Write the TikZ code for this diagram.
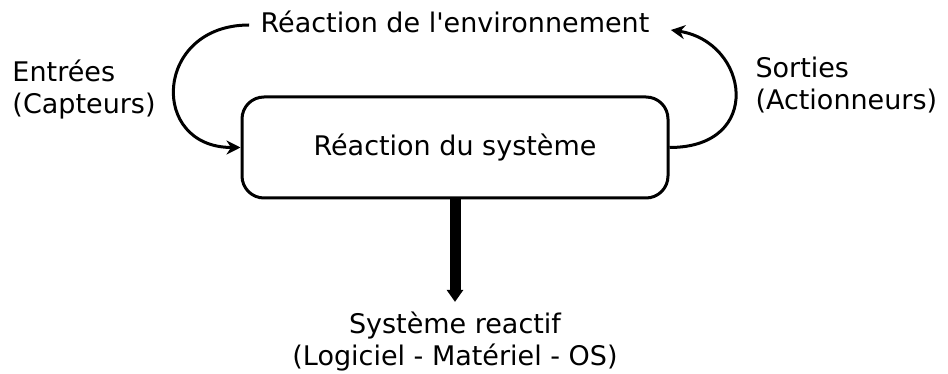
\documentclass[tikz,border=0pt]{standalone}
\usepackage{fontspec}
\setmainfont{DejaVu Sans}
\usetikzlibrary{arrows.meta}
\begin{document}
\begin{tikzpicture}[x=1pt,y=-1pt,line width=3pt,
  font=\fontsize{27}{32}\selectfont,
  lbl/.style={align=left,anchor=west,inner sep=0pt},
  loop/.style={-{Stealth[length=14pt,width=14pt]}}]
  \useasboundingbox (0,0) rectangle (948,374);
  \node[draw,rounded corners=22pt,minimum width=426pt,minimum height=101pt,inner sep=0pt] (sys) at (455,147.5) {Réaction du système};
  \node[inner sep=0pt] (env) at (455,22) {Réaction de l\textquotesingle environnement};
  \node[align=center,inner sep=0pt] (reac) at (455,342) {Système reactif\\(Logiciel - Matériel - OS)};
  \node[lbl] (inp) at (11,90) {Entrées\\(Capteurs)};
  \node[lbl] (outp) at (754,85) {Sorties\\(Actionneurs)};
  % boucle entre systeme et environnement
  \draw[loop] ([xshift=-10pt,yshift=-3pt]env.west) .. controls +(-95,0) and +(-92,0) .. (sys.west);
  \draw[loop] (sys.east) .. controls +(95,0) and +(78,12) .. ([xshift=20pt,yshift=-8pt]env.east);
  \draw[line width=11pt,-{Triangle[length=12pt,width=16pt]}] (sys.south) -- ([yshift=9pt]reac.north);
\end{tikzpicture}
\end{document}
